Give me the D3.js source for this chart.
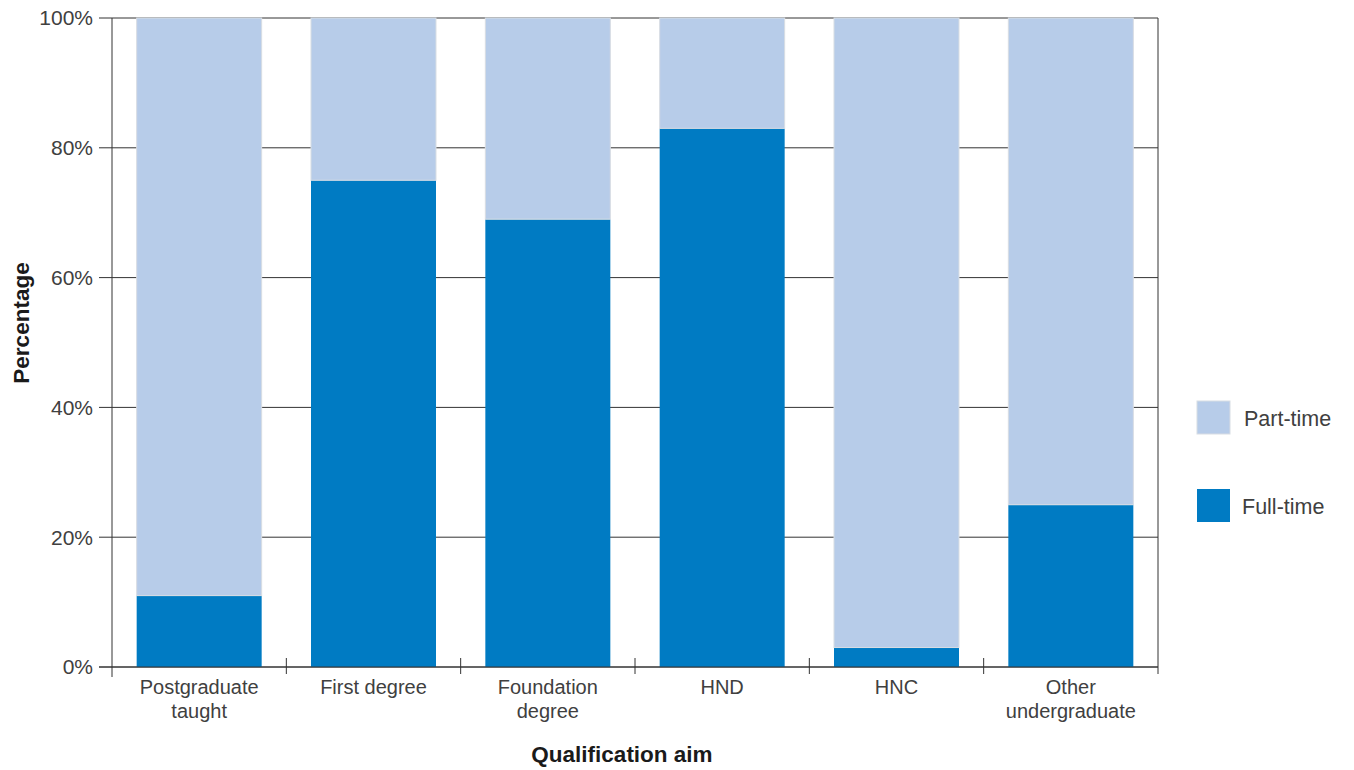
<!DOCTYPE html>
<html><head><meta charset="utf-8">
<script src="https://cdn.jsdelivr.net/npm/d3@7"></script>
<style>body{margin:0;background:#fff;} text{font-family:"Liberation Sans",Arial,sans-serif;}</style>
</head><body>
<svg id="c" width="1354" height="770"></svg>
<script>
const categories = [["Postgraduate","taught"],["First degree"],["Foundation","degree"],["HND"],["HNC"],["Other","undergraduate"]];
const fullTime = [11, 75, 69, 83, 3, 25];
const partTime = [89, 25, 31, 17, 97, 75];
const yTicks = [0, 20, 40, 60, 80, 100];
const seriesNames = ["Part-time", "Full-time"];
const colors = {"Full-time":"#007bc3", "Part-time":"#b7cce9"};

const svg = d3.select("#c");
const L = 112, R = 1158, T = 18, B = 667;
const keys = categories.map(c => c.join(" "));
const x = d3.scaleBand().domain(keys).range([L, R]).paddingInner(0.283).paddingOuter(0.1415);
const y = d3.scaleLinear().domain([0, 100]).range([B, T]);
const txt = "#404040", lineC = "#333";

// gridlines
svg.append("g").selectAll("line").data(yTicks).join("line")
  .attr("x1", L - 13).attr("x2", R).attr("y1", d => y(d)).attr("y2", d => y(d))
  .attr("stroke", lineC).attr("stroke-width", 1);
// y labels
svg.append("g").selectAll("text").data(yTicks).join("text")
  .attr("x", 93).attr("y", d => y(d)).attr("dy", "0.35em").attr("text-anchor", "end")
  .attr("font-size", 21).attr("fill", txt).text(d => d + "%");

// stacked bars
const rows = keys.map((k, i) => ({key: k, "Full-time": fullTime[i], "Part-time": partTime[i]}));
const stack = d3.stack().keys(["Full-time", "Part-time"])(rows);
svg.append("g").selectAll("g").data(stack).join("g")
  .attr("fill", d => colors[d.key])
  .attr("stroke", d => d.key === "Part-time" ? "#d8dde3" : "none")
  .selectAll("rect").data(d => d).join("rect")
  .attr("x", d => x(d.data.key)).attr("width", x.bandwidth())
  .attr("y", d => y(d[1])).attr("height", d => y(d[0]) - y(d[1]));

// axes lines
svg.append("line").attr("x1", L).attr("x2", L).attr("y1", T).attr("y2", B + 10).attr("stroke", lineC);
svg.append("line").attr("x1", R).attr("x2", R).attr("y1", T).attr("y2", B + 7).attr("stroke", lineC);
svg.append("line").attr("x1", L - 13).attr("x2", R).attr("y1", B).attr("y2", B).attr("stroke", lineC);
// x ticks at band boundaries
const bounds = keys.slice(1).map(k => x(k) - x.step() * x.paddingInner() / 2);
svg.append("g").selectAll("line").data(bounds).join("line")
  .attr("x1", d => d).attr("x2", d => d).attr("y1", B - 9).attr("y2", B + 7).attr("stroke", lineC);

// x labels
svg.append("g").selectAll("text").data(categories).join("text")
  .attr("x", (d, i) => x(keys[i]) + x.bandwidth() / 2).attr("y", 694)
  .attr("text-anchor", "middle").attr("font-size", 20).attr("fill", txt)
  .each(function(d) {
    const t = d3.select(this);
    d.forEach((line, j) => t.append("tspan").attr("x", t.attr("x")).attr("dy", j ? 24 : 0).text(line));
  });

// axis titles
svg.append("text").attr("transform", "translate(29,323) rotate(-90)").attr("text-anchor", "middle")
  .attr("font-size", 22.5).attr("font-weight", "bold").attr("fill", "#1a1a1a").text("Percentage");
svg.append("text").attr("x", 622).attr("y", 762).attr("text-anchor", "middle")
  .attr("font-size", 22.5).attr("font-weight", "bold").attr("fill", "#1a1a1a").text("Qualification aim");

// legend
const legY = [401, 489];
seriesNames.forEach((s, i) => {
  svg.append("rect").attr("x", 1197).attr("y", legY[i]).attr("width", 33).attr("height", 33)
    .attr("fill", colors[s]).attr("stroke", s === "Part-time" ? "#d8dde3" : "none");
  svg.append("text").attr("x", i ? 1242 : 1244).attr("y", legY[i] + 17).attr("dy", "0.35em")
    .attr("font-size", 21.5).attr("fill", txt).text(s);
});
</script>
</body></html>
